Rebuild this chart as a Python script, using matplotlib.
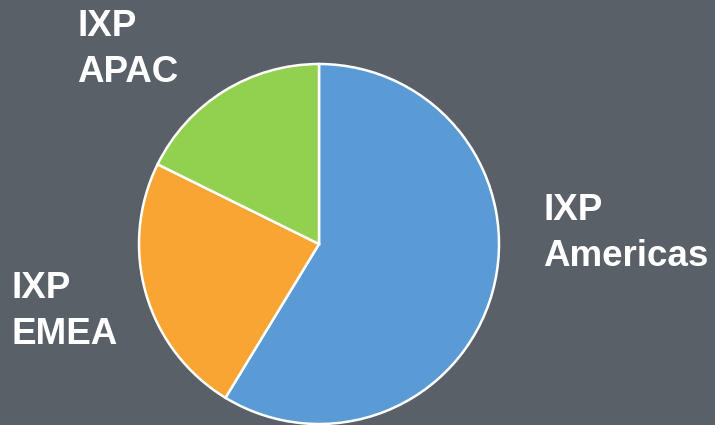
import matplotlib.pyplot as plt

# share of IXP by region (percent)
regions = ['IXP\nAmericas', 'IXP\nEMEA', 'IXP\nAPAC']
shares = [58.7, 23.6, 17.7]
colors = ['#5b9bd5', '#f9a533', '#92d050']

bg = '#5a6068'
W, H = 715, 425

fig = plt.figure(figsize=(W / 100, H / 100), dpi=100, facecolor=bg)
ax = fig.add_axes([0, 0, 1, 1])
ax.set_facecolor(bg)
ax.axis('off')

ax.pie(shares, colors=colors, startangle=90, counterclock=False,
       center=(319, H - 244), radius=180,
       wedgeprops=dict(edgecolor='white', linewidth=1.8))
ax.set_xlim(0, W)
ax.set_ylim(0, H)
ax.set_aspect('equal')

# labels next to each slice
label_pos = [(543, 193), (12, 271), (77, 9)]
for txt, (x, y) in zip(regions, label_pos):
    ax.text(x, H - y, txt, ha='left', va='top', color='white',
            fontsize=26.5, fontweight='bold', family='Liberation Sans',
            linespacing=1.42)

fig.savefig('out.png', dpi=100, facecolor=bg)
